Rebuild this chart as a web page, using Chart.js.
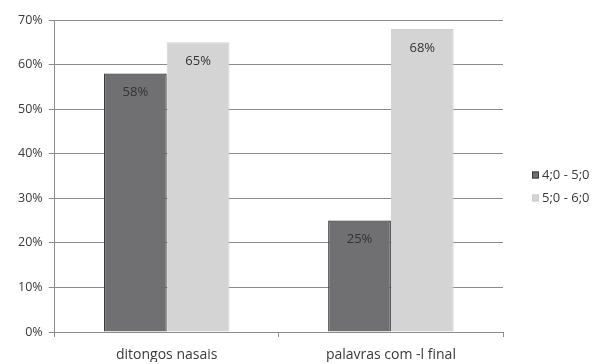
<!DOCTYPE html>
<html><head><meta charset="utf-8">
<script src="https://cdn.jsdelivr.net/npm/chart.js@4/dist/chart.umd.min.js"></script>
<style>html,body{margin:0;padding:0;background:#fff}#wrap{width:605px;height:364px}</style>
</head><body><div id="wrap"><canvas id="c" width="605" height="364"></canvas></div>
<script>
const categories = ["ditongos nasais", "palavras com -l final"];
const seriesNames = ["4;0 - 5;0", "5;0 - 6;0"];
const series1 = [58, 25]; // 4;0 - 5;0
const series2 = [65, 68]; // 5;0 - 6;0
const yTicks = [0, 10, 20, 30, 40, 50, 60, 70];

const FONT = "'Open Sans'";
const TXT = "#3a3a3a";

const valueLabels = {
  id: "valueLabels",
  afterDatasetsDraw(chart) {
    const ctx = chart.ctx;
    ctx.save();
    ctx.font = "13px " + FONT;
    ctx.fillStyle = "#333";
    ctx.textAlign = "center";
    ctx.textBaseline = "middle";
    chart.data.datasets.forEach((ds, i) => {
      chart.getDatasetMeta(i).data.forEach((bar, j) => {
        ctx.fillText(ds.data[j] + "%", bar.x, bar.y + 19);
      });
    });
    ctx.restore();
  }
};

const sideLegend = {
  id: "sideLegend",
  afterDraw(chart) {
    const ctx = chart.ctx;
    const x = chart.chartArea.right + 29;
    const y0 = 175;
    ctx.save();
    ctx.font = "13px " + FONT;
    ctx.textBaseline = "middle";
    ctx.textAlign = "left";
    chart.data.datasets.forEach((ds, i) => {
      const y = y0 + i * 23;
      ctx.fillStyle = ds.backgroundColor;
      ctx.fillRect(x, y - 3.5, 7, 7);
      ctx.strokeStyle = ds.borderColor;
      ctx.lineWidth = 1;
      ctx.strokeRect(x + 0.5, y - 3, 6, 6);
      ctx.fillStyle = TXT;
      ctx.fillText(ds.label, x + 10, y);
    });
    ctx.restore();
  }
};

new Chart(document.getElementById("c"), {
  type: "bar",
  data: {
    labels: categories,
    datasets: [
      { label: seriesNames[0], data: series1, backgroundColor: "#707073", borderColor: "#3a3a3c", borderWidth: 1.2 },
      { label: seriesNames[1], data: series2, backgroundColor: "#d4d4d4", borderColor: "#d0d0d0", borderWidth: 1 }
    ]
  },
  options: {
    responsive: false,
    animation: false,
    layout: { padding: { top: 20, left: 12, right: 102, bottom: 2 } },
    plugins: { legend: { display: false }, tooltip: { enabled: false } },
    datasets: { bar: { barPercentage: 1, categoryPercentage: 0.56 } },
    scales: {
      x: {
        afterFit(s) { s.height = 30; },
        grid: { display: true, drawOnChartArea: false, tickLength: 5, color: "#8c8c8c", offset: true },
        border: { color: "#8c8c8c" },
        ticks: { color: TXT, font: { family: FONT, size: 14 }, padding: 10, maxRotation: 0 }
      },
      y: {
        min: 0, max: 70,
        afterBuildTicks(scale) { scale.ticks = yTicks.map(v => ({ value: v })); },
        grid: { color: "#8c8c8c", tickLength: 6 },
        border: { color: "#8c8c8c" },
        ticks: { color: TXT, font: { family: FONT, size: 12.5 }, padding: 6, callback: v => v + "%" }
      }
    }
  },
  plugins: [valueLabels, sideLegend]
});
</script></body></html>
